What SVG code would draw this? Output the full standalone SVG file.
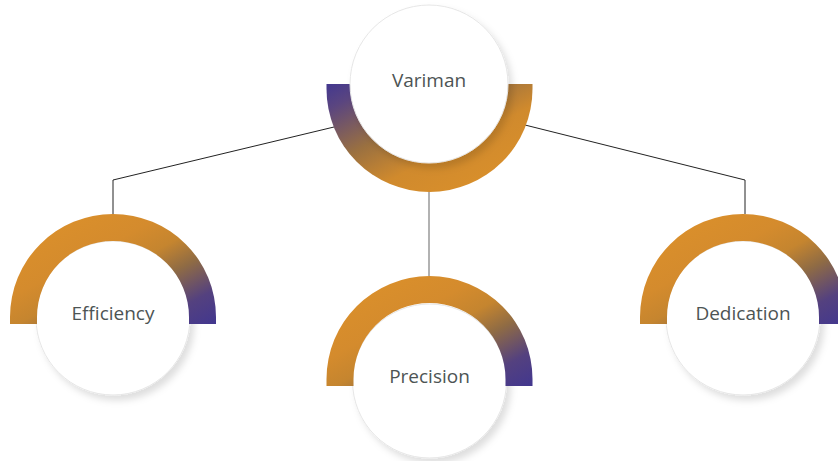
<svg xmlns="http://www.w3.org/2000/svg" width="838" height="461" viewBox="0 0 838 461">
<defs>
<linearGradient id="gBottom" x1="0" y1="0" x2="1" y2="1">
<stop offset="0" stop-color="#de922a"/>
<stop offset="0.38" stop-color="#d48b2d"/>
<stop offset="0.52" stop-color="#c5852f"/>
<stop offset="0.66" stop-color="#8f6b44"/>
<stop offset="0.84" stop-color="#54417f"/>
<stop offset="1" stop-color="#42378f"/>
</linearGradient>
<linearGradient id="gTop" x1="0" y1="0" x2="1" y2="1">
<stop offset="0" stop-color="#43388f"/>
<stop offset="0.12" stop-color="#5a4580"/>
<stop offset="0.38" stop-color="#9a7040"/>
<stop offset="0.6" stop-color="#d08a2d"/>
<stop offset="1" stop-color="#de922a"/>
</linearGradient>
<filter id="sh" x="-20%" y="-20%" width="150%" height="150%">
<feDropShadow dx="4" dy="5" stdDeviation="3.5" flood-color="#000" flood-opacity="0.13"/>
</filter>
</defs>
<style>
.circle{fill:#fff;stroke:#e6e6e6;stroke-width:1;filter:url(#sh)}
.lbl{font-family:"Open Sans","Noto Sans",sans-serif;font-size:19px;fill:#4d5454;text-anchor:middle}
.conn{fill:none;stroke:#222;stroke-width:1}
.conn2{fill:none;stroke:#999;stroke-width:1.5}
</style>
<g id="connectors">
<polyline class="conn" points="334,127 113,180 113,215"/>
<polyline class="conn" points="525,125 745,180 745,214"/>
<line class="conn2" x1="429" y1="190" x2="429" y2="276"/>
</g>
<g id="node-variman">
<path fill="url(#gTop)" d="M326.5,84 L532.5,84 L532.5,89 A103,103 0 0 1 326.5,89 Z"/>
<circle class="circle" cx="429" cy="84" r="79"/>
<text class="lbl" x="429" y="87">Variman</text>
</g>
<g id="node-efficiency">
<circle class="circle" cx="113" cy="318" r="77"/>
<path fill="url(#gBottom)" d="M10,324 L10,317 A103,103 0 0 1 216,317 L216,324 L189,324 L189,317 A76,76 0 0 0 37,317 L37,324 Z"/>
<text class="lbl" x="113" y="320">Efficiency</text>
</g>
<g id="node-precision">
<circle class="circle" cx="429.5" cy="381" r="77"/>
<path fill="url(#gBottom)" d="M326.5,386 L326.5,379 A103,103 0 0 1 532.5,379 L532.5,386 L505.5,386 L505.5,379 A76,76 0 0 0 353.5,379 L353.5,386 Z"/>
<text class="lbl" x="429.5" y="383">Precision</text>
</g>
<g id="node-dedication">
<circle class="circle" cx="743" cy="318" r="77"/>
<path fill="url(#gBottom)" d="M640,324 L640,317 A103,103 0 0 1 846,317 L846,324 L819,324 L819,317 A76,76 0 0 0 667,317 L667,324 Z"/>
<text class="lbl" x="743" y="320">Dedication</text>
</g>
</svg>
